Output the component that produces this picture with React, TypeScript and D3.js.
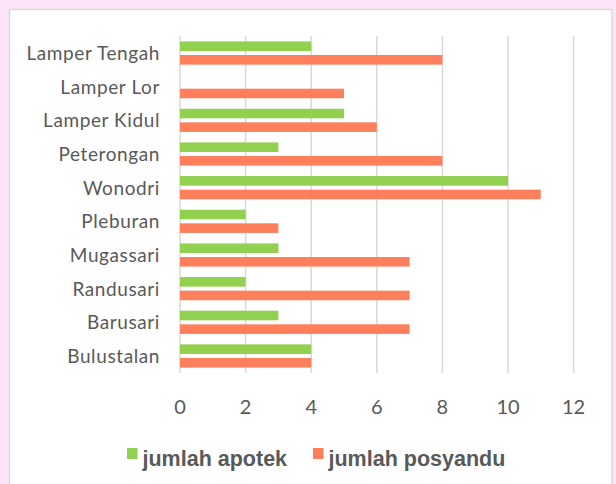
import React from "react";
import * as d3 from "d3";

const categories = [
  "Lamper Tengah",
  "Lamper Lor",
  "Lamper Kidul",
  "Peterongan",
  "Wonodri",
  "Pleburan",
  "Mugassari",
  "Randusari",
  "Barusari",
  "Bulustalan",
];
const apotek = [4, 0, 5, 3, 10, 2, 3, 2, 3, 4];
const posyandu = [8, 5, 6, 8, 11, 3, 7, 7, 7, 4];
const xTicks = [0, 2, 4, 6, 8, 10, 12];
const seriesNames = ["jumlah apotek", "jumlah posyandu"];
const seriesColors = ["#92d050", "#fd7f5c"];

export default function App() {
  const W = 616;
  const H = 484;
  const x = d3.scaleLinear().domain([0, 12]).range([180, 573.6]);
  const y = d3.scaleBand<string>().domain(categories).range([36.2, 372.8]).padding(0);
  const barH = 9.6;
  const gap = 4;
  const textColor = "#595959";
  const legendX = [127, 313];

  return (
    <svg
      width={W}
      height={H}
      style={{ position: "absolute", left: 0, top: 0, display: "block" }}
    >
      <rect x={0} y={0} width={W} height={H} fill="#fde4fb" />
      <rect x={9.5} y={9.5} width={602.5} height={H} fill="#ffffff" stroke="#d9d9d9" strokeWidth={1.5} />
      {xTicks.map((t) => (
        <line key={t} x1={x(t)} x2={x(t)} y1={36} y2={373} stroke="#d9d9d9" strokeWidth={1.5} />
      ))}
      {categories.map((c, i) => {
        const cy = (y(c) as number) + y.bandwidth() / 2;
        return (
          <g key={c}>
            {apotek[i] > 0 && (
              <rect x={x(0)} y={cy - gap / 2 - barH} width={x(apotek[i]) - x(0)} height={barH} fill={seriesColors[0]} />
            )}
            {posyandu[i] > 0 && (
              <rect x={x(0)} y={cy + gap / 2} width={x(posyandu[i]) - x(0)} height={barH} fill={seriesColors[1]} />
            )}
            <text
              x={160}
              y={cy + 7}
              textAnchor="end"
              fontFamily="Lato, 'Open Sans', sans-serif"
              fontSize={19}
              letterSpacing={0.6}
              fill={textColor}
            >
              {c}
            </text>
          </g>
        );
      })}
      {xTicks.map((t) => (
        <text
          key={"l" + t}
          x={x(t)}
          y={414}
          textAnchor="middle"
          fontFamily="Lato, 'Open Sans', sans-serif"
          fontSize={20}
          fill={textColor}
        >
          {t}
        </text>
      ))}
      {seriesNames.map((s, i) => (
        <g key={s}>
          <rect x={legendX[i]} y={448} width={10.5} height={11} fill={seriesColors[i]} />
          <text
            x={legendX[i] + 15.5}
            y={466}
            fontFamily="'Liberation Sans', Arial, sans-serif"
            fontWeight="bold"
            fontSize={21.5}
            fill={textColor}
          >
            {s}
          </text>
        </g>
      ))}
    </svg>
  );
}
